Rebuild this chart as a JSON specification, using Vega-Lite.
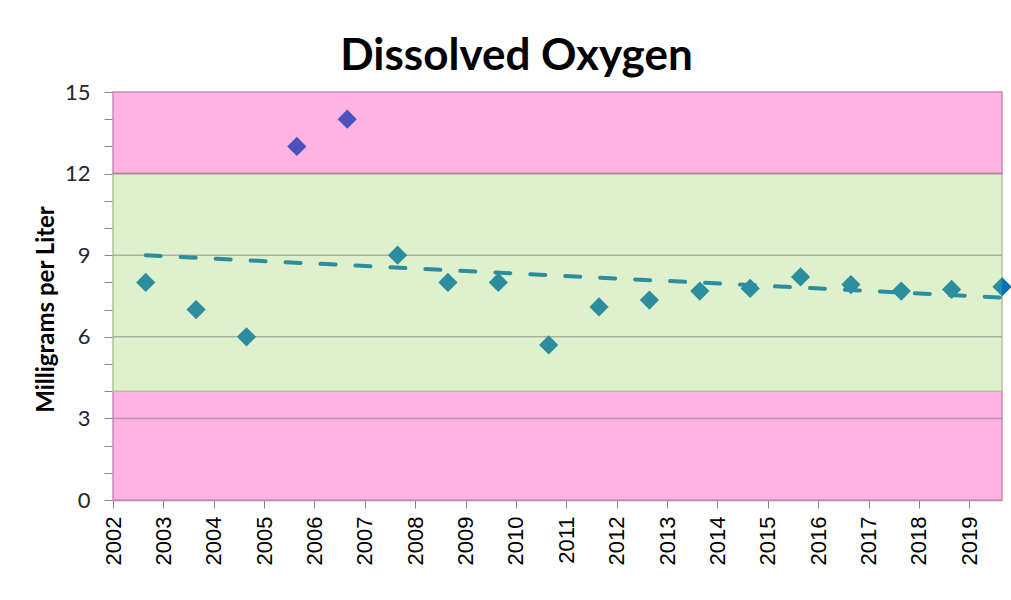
{
  "$schema": "https://vega.github.io/schema/vega-lite/v6.json",
  "width": 889,
  "height": 408,
  "autosize": "none",
  "padding": {"left": 113, "top": 92, "right": 9, "bottom": 100},
  "background": "white",
  "config": {"view": {"stroke": null}},
  "title": {"text": "Dissolved Oxygen", "font": "Lato", "fontSize": 44, "fontWeight": "bold", "color": "black", "dx": -41, "offset": 2},
  "datasets": {
    "bands": [
      {"lo": 0, "hi": 4, "zone": "low"},
      {"lo": 4, "hi": 12, "zone": "good"},
      {"lo": 12, "hi": 15, "zone": "high"}
    ],
    "grid": [{"v": 3}, {"v": 6}, {"v": 9}, {"v": 12}],
    "samples": [
      {"year": 2002.65, "value": 8.0, "flag": "normal"},
      {"year": 2003.65, "value": 7.0, "flag": "normal"},
      {"year": 2004.65, "value": 6.0, "flag": "normal"},
      {"year": 2005.65, "value": 13.0, "flag": "high"},
      {"year": 2006.65, "value": 14.0, "flag": "high"},
      {"year": 2007.65, "value": 9.0, "flag": "normal"},
      {"year": 2008.65, "value": 8.0, "flag": "normal"},
      {"year": 2009.65, "value": 8.0, "flag": "normal"},
      {"year": 2010.65, "value": 5.7, "flag": "normal"},
      {"year": 2011.65, "value": 7.1, "flag": "normal"},
      {"year": 2012.65, "value": 7.35, "flag": "normal"},
      {"year": 2013.65, "value": 7.68, "flag": "normal"},
      {"year": 2014.65, "value": 7.78, "flag": "normal"},
      {"year": 2015.65, "value": 8.2, "flag": "normal"},
      {"year": 2016.65, "value": 7.92, "flag": "normal"},
      {"year": 2017.65, "value": 7.68, "flag": "normal"},
      {"year": 2018.65, "value": 7.74, "flag": "normal"},
      {"year": 2019.65, "value": 7.84, "flag": "normal"}
    ]
  },
  "layer": [
    {
      "data": {"name": "bands"},
      "mark": {"type": "rect", "strokeWidth": 1.5},
      "encoding": {
        "y": {
          "field": "lo", "type": "quantitative",
          "scale": {"domain": [0, 15], "nice": false, "zero": true},
          "axis": {
            "values": [0, 1, 2, 3, 4, 5, 6, 7, 8, 9, 10, 11, 12, 13, 14, 15],
            "tickCount": 30,
            "format": "d",
            "labelExpr": "datum.value % 3 === 0 ? datum.label : ''",
            "labelOverlap": false,
            "grid": false, "domain": false,
            "tickColor": "#868686", "tickSize": 9, "tickWidth": 1,
            "labelFont": "Lato", "labelFontSize": 22, "labelColor": "#262626", "labelPadding": 14,
            "title": "Milligrams per Liter", "titleFont": "Lato", "titleFontSize": 24, "titleFontWeight": "bold", "titleColor": "black", "titlePadding": 6, "titleY": 217
          }
        },
        "y2": {"field": "hi"},
        "fill": {"field": "zone", "type": "nominal", "scale": {"domain": ["low", "good", "high"], "range": ["#FFB3E3", "#DFF0CC", "#FFB3E3"]}, "legend": null},
        "stroke": {"field": "zone", "type": "nominal", "scale": {"domain": ["low", "good", "high"], "range": ["#C98BB6", "#AFC398", "#C98BB6"]}, "legend": null}
      }
    },
    {
      "data": {"name": "grid"},
      "mark": {"type": "rule", "color": "#7F7F7F", "opacity": 0.55, "strokeWidth": 1.5},
      "encoding": {"y": {"field": "v", "type": "quantitative"}}
    },
    {
      "data": {"name": "samples"},
      "mark": {"type": "point", "filled": true, "shape": "diamond", "size": 370, "opacity": 1},
      "encoding": {
        "x": {
          "field": "year", "type": "quantitative",
          "scale": {"domain": [2002, 2019.65], "nice": false, "zero": false},
          "axis": {
            "values": [2002, 2003, 2004, 2005, 2006, 2007, 2008, 2009, 2010, 2011, 2012, 2013, 2014, 2015, 2016, 2017, 2018, 2019],
            "tickCount": 30,
            "format": "d", "labelAngle": -90, "labelFont": "Liberation Sans", "labelFontSize": 22, "labelColor": "black", "labelPadding": 8,
            "tickSize": 8, "tickColor": "#868686", "domainColor": "#9C8A96", "domainWidth": 1.5, "grid": false, "title": null
          }
        },
        "y": {"field": "value", "type": "quantitative"},
        "color": {"field": "flag", "type": "nominal", "scale": {"domain": ["normal", "high"], "range": ["#2C8D9F", "#4B52BE"]}, "legend": null}
      }
    },
    {
      "data": {"name": "samples"},
      "transform": [{"filter": "datum.year > 2019.6"}],
      "mark": {"type": "point", "filled": true, "shape": "M0,-1L1,0L0,1Z", "size": 370, "opacity": 1, "color": "#0070C0"},
      "encoding": {
        "x": {"field": "year", "type": "quantitative"},
        "y": {"field": "value", "type": "quantitative"}
      }
    },
    {
      "data": {"name": "samples"},
      "transform": [{"regression": "value", "on": "year"}],
      "mark": {"type": "line", "color": "#2C8D9F", "strokeWidth": 4, "strokeDash": [15, 20], "strokeCap": "round"},
      "encoding": {
        "x": {"field": "year", "type": "quantitative"},
        "y": {"field": "value", "type": "quantitative"}
      }
    }
  ]
}
